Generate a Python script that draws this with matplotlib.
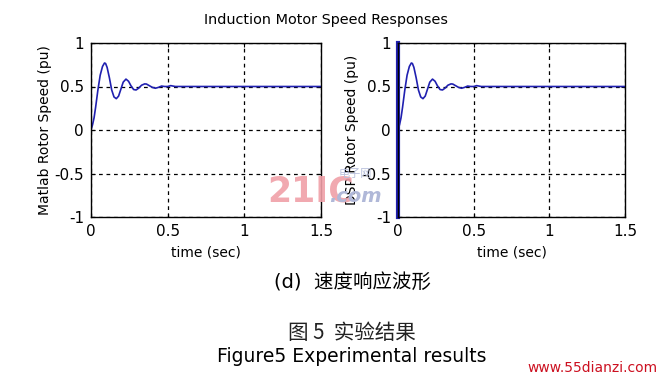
import matplotlib
matplotlib.use("Agg")
import matplotlib.pyplot as plt

plt.rcParams['font.family'] = ['DejaVu Sans', 'Noto Sans CJK SC']

# speed response (t in sec, speed in pu)
t_resp = [0, 0.01, 0.02, 0.03, 0.045, 0.06, 0.075, 0.088, 0.095, 0.105, 0.12, 0.135,
          0.15, 0.165, 0.18, 0.195, 0.21, 0.228, 0.245, 0.26, 0.278, 0.294, 0.31,
          0.33, 0.35, 0.362, 0.38, 0.40, 0.42, 0.44, 0.46, 0.48, 0.50, 0.52, 0.55, 1.5]
w_resp = [0, 0.06, 0.14, 0.26, 0.46, 0.63, 0.73, 0.77, 0.765, 0.72, 0.60, 0.46,
          0.38, 0.36, 0.39, 0.47, 0.55, 0.585, 0.56, 0.51, 0.465, 0.46, 0.48,
          0.515, 0.53, 0.528, 0.51, 0.49, 0.48, 0.49, 0.505, 0.5, 0.5, 0.51, 0.5, 0.5]

# DSP trace starts with a full-scale spike at t=0
t_dsp = [0, 0, 0] + t_resp
w_dsp = [-1, 1, 0] + w_resp

x_ticks = [0, 0.5, 1, 1.5]
y_ticks = [-1, -0.5, 0, 0.5, 1]
x_ticklabels = ['0', '0.5', '1', '1.5']
y_ticklabels = ['-1', '-0.5', '0', '0.5', '1']

W, H = 662, 380
fig = plt.figure(figsize=(W / 100, H / 100), dpi=100)
fig.patch.set_facecolor('white')


def make_axes(left, right, top, bottom, t, w, ylabel):
    ax = fig.add_axes([left / W, 1 - bottom / H, (right - left) / W, (bottom - top) / H])
    ax.plot(t, w, color='#2020b0', linewidth=1.2)
    ax.set_xlim(0, 1.5)
    ax.set_ylim(-1, 1)
    ax.set_xticks(x_ticks)
    ax.set_xticklabels(x_ticklabels)
    ax.set_yticks(y_ticks)
    ax.set_yticklabels(y_ticklabels)
    ax.tick_params(direction='in', labelsize=11, length=3, pad=5,
                   top=True, right=True)
    ax.grid(True, color='black', linestyle=(0, (3, 3)), linewidth=0.9)
    for s in ax.spines.values():
        s.set_linewidth(1.0)
    ax.set_xlabel('time (sec)', fontsize=10, labelpad=5)
    ax.set_ylabel(ylabel, fontsize=10, labelpad=2)
    return ax


ax1 = make_axes(91, 321, 43, 217, t_resp, w_resp, 'Matlab Rotor Speed (pu)')
ax2 = make_axes(398, 625, 43, 217, t_dsp, w_dsp, 'DSP Rotor Speed (pu)')
# thick spike at t=0 on the DSP plot
ax2.plot([0, 0], [-1, 1], color='#2020b0', linewidth=3, clip_on=False)

fig.text(326 / W, 1 - 20 / H, 'Induction Motor Speed Responses',
         ha='center', va='center', fontsize=10.4)

# watermark
fig.text(267 / W, 1 - 191 / H, '21IC', color='#f0a0a8', fontsize=25,
         fontweight='bold', ha='left', va='center', alpha=0.9)
fig.text(355 / W, 1 - 174 / H, '电子网', color='#b8c0dc', fontsize=8,
         ha='center', va='center', family=['Noto Sans CJK SC'])
fig.text(355 / W, 1 - 196 / H, '.com', color='#b0b8d8', fontsize=14,
         style='italic', fontweight='bold', ha='center', va='center')

cap = ['Noto Sans CJK SC', 'DejaVu Sans']
fig.text(352 / W, 1 - 283 / H, '(d)  速度响应波形', ha='center', va='center',
         fontsize=14, family=['DejaVu Sans', 'Noto Sans CJK SC'])
fig.text(352 / W, 1 - 333 / H, '图 5  实验结果', ha='center', va='center',
         fontsize=14.8, family=cap, color='#222222')
fig.text(352 / W, 1 - 357 / H, 'Figure5 Experimental results', ha='center',
         va='center', fontsize=13.5, family=['DejaVu Sans'])
fig.text(592 / W, 1 - 368 / H, 'www.55dianzi.com', ha='center', va='center',
         fontsize=10, color='#cc1020')

fig.savefig('out.png', dpi=100)
